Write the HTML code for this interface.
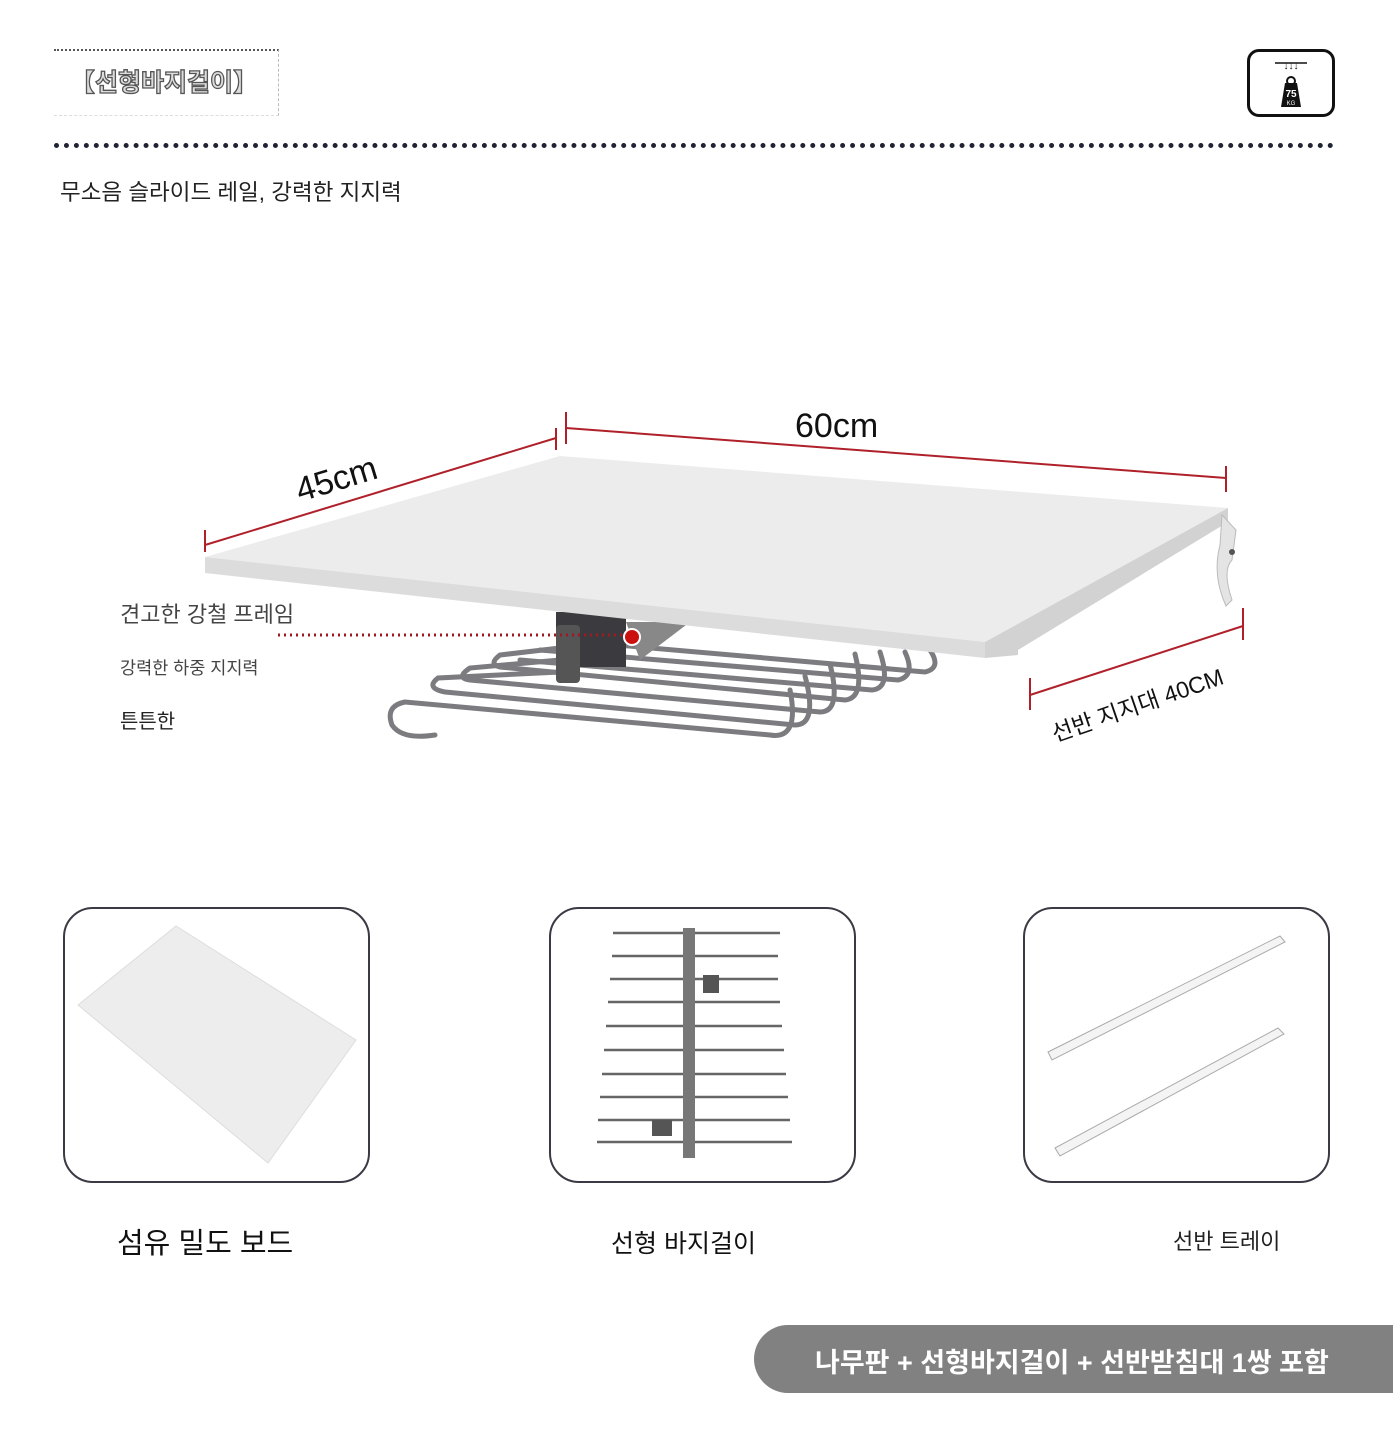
<!DOCTYPE html>
<html><head><meta charset="utf-8"><style>
html,body{margin:0;width:1393px;height:1433px;overflow:hidden}
body{background:#fff;position:relative;font-family:"Liberation Sans","Noto Sans CJK KR",sans-serif;color:#222}
.a{position:absolute;white-space:nowrap}
.box{position:absolute;border:2.5px solid #3a3a44;border-radius:30px;width:303px;height:272px;top:907px}
</style></head><body>
<div class="a" style="left:54px;top:49px;width:224px;height:64px;border-top:2px dotted #555;border-right:1px dashed #bbb;border-bottom:1px dashed #ddd"></div>
<div class="a" style="left:70px;top:63px;font-size:25px;color:#ddd;-webkit-text-stroke:1.3px #555;font-weight:bold">【선형바지걸이】</div>
<div class="a" style="left:54px;top:143px;width:1280px;border-top:5px dotted #1f2333"></div>
<div class="a" style="left:60px;top:175px;font-size:22.5px;color:#222">무소음 슬라이드 레일, 강력한 지지력</div>
<div class="a" style="left:1247px;top:49px;width:82px;height:62px;border:3px solid #111;border-radius:12px"></div>
<svg class="a" style="left:1247px;top:49px" width="88" height="68"><text x="44" y="20" font-size="10" text-anchor="middle" fill="#111">↓↓↓</text><line x1="28" y1="14" x2="60" y2="14" stroke="#111" stroke-width="1.5"/><path d="M34 58 L38 34 L50 34 L54 58 Z" fill="#111"/><circle cx="44" cy="32" r="4" fill="none" stroke="#111" stroke-width="2"/><text x="44" y="48" font-size="10" fill="#fff" text-anchor="middle" font-weight="bold">75</text><text x="44" y="56" font-size="6" fill="#fff" text-anchor="middle">KG</text></svg>

<svg class="a" style="left:0;top:0" width="1393" height="880">
<g fill="none" stroke="#7c7c80" stroke-width="5" stroke-linecap="round">
<path d="M930 650 Q942 668 925 672 L560 640"/>
<path d="M905 652 Q916 676 898 680 L540 650"/>
<path d="M880 652 Q892 688 872 690 L520 660"/>
<path d="M855 654 Q866 698 845 700 L500 667 Q488 664 500 655 L560 648"/>
<path d="M830 664 Q842 712 820 712 L470 680 Q455 678 470 668 L560 660"/>
<path d="M805 676 Q818 725 795 725 L445 692 Q425 688 438 678 L560 672"/>
<path d="M790 690 Q800 740 770 735 L405 702 Q385 706 392 725 Q402 740 435 735"/>
</g>
<rect x="556" y="612" width="70" height="55" fill="#3b3b3f"/>
<rect x="556" y="625" width="24" height="58" rx="4" fill="#555"/>
<path d="M626 622 L690 622 L640 660 Z" fill="#888"/>
<polygon points="205,557 560,456 1228,508 985,642" fill="#ececec"/>
<polygon points="205,557 985,642 985,658 205,573" fill="#dcdcdc"/>
<polygon points="985,642 1228,508 1228,522 1018,650 1018,655 985,658" fill="#d2d2d2"/>
<path d="M1222 515 L1236 530 L1232 560 Q1222 570 1232 600 L1226 606 Q1212 575 1220 545 Z" fill="#e4e4e4" stroke="#bbb"/>
<circle cx="1232" cy="552" r="3" fill="#555"/>
<g stroke="#b0202a" stroke-width="2">
<line x1="205" y1="545" x2="556" y2="438"/><line x1="205" y1="530" x2="205" y2="552"/><line x1="556" y1="428" x2="556" y2="450"/>
<line x1="566" y1="428" x2="1226" y2="478"/><line x1="566" y1="412" x2="566" y2="444"/><line x1="1226" y1="466" x2="1226" y2="492"/>
<line x1="1030" y1="695" x2="1243" y2="626"/><line x1="1030" y1="678" x2="1030" y2="710"/><line x1="1243" y1="608" x2="1243" y2="640"/>
</g>
<line x1="278" y1="635" x2="625" y2="635" stroke="#a01820" stroke-width="3" stroke-dasharray="2 4"/>
<circle cx="632" cy="637" r="8" fill="#cc1010" stroke="#fff" stroke-width="2"/>
<text x="300" y="502" font-size="34" fill="#111" transform="rotate(-17 300 502)">45cm</text>
<text x="795" y="437" font-size="34" fill="#111">60cm</text>
<text x="1055" y="742" font-size="23" fill="#111" transform="rotate(-19 1055 742)">선반 지지대 40CM</text>
</svg>
<div class="a" style="left:120px;top:597px;font-size:22px;color:#444">견고한 강철 프레임</div>
<div class="a" style="left:120px;top:655px;font-size:17.5px;color:#444">강력한 하중 지지력</div>
<div class="a" style="left:120px;top:705px;font-size:20px;color:#222">튼튼한</div>

<div class="box" style="left:63px"></div>
<div class="box" style="left:549px"></div>
<div class="box" style="left:1023px"></div>
<svg class="a" style="left:0;top:900px" width="1393" height="300">
<polygon points="78,105 176,26 356,140 268,263" fill="#ededed" stroke="#ddd"/>
<g stroke="#666" stroke-width="2.5" fill="none">
<path d="M613 33 L780 33"/><path d="M612 56 L778 56"/><path d="M610 79 L778 79"/><path d="M608 102 L780 102"/>
<path d="M606 126 L782 126"/><path d="M604 150 L784 150"/><path d="M602 174 L786 174"/><path d="M600 197 L788 197"/>
<path d="M598 220 L790 220"/><path d="M597 242 L792 242"/>
</g>
<rect x="683" y="28" width="12" height="230" fill="#777"/>
<rect x="703" y="75" width="16" height="18" fill="#555"/><rect x="652" y="220" width="20" height="16" fill="#555"/>
<path d="M1048 152 L1280 36 L1285 42 L1052 160 Z" fill="#f4f4f4" stroke="#aaa"/>
<path d="M1055 248 L1278 128 L1284 134 L1060 256 Z" fill="#f4f4f4" stroke="#aaa"/>
</svg>
<div class="a" style="left:117px;top:1220px;font-size:29px;color:#111">섬유 밀도 보드</div>
<div class="a" style="left:611px;top:1224px;font-size:25px;color:#111">선형 바지걸이</div>
<div class="a" style="left:1173px;top:1224px;font-size:22px;color:#222">선반 트레이</div>
<div class="a" style="left:754px;top:1325px;width:639px;height:68px;background:#818181;border-radius:34px 0 0 34px"></div>
<div class="a" style="left:815px;top:1341px;font-size:27px;color:#fff;font-weight:bold">나무판 + 선형바지걸이 + 선반받침대 1쌍 포함</div>
</body></html>
